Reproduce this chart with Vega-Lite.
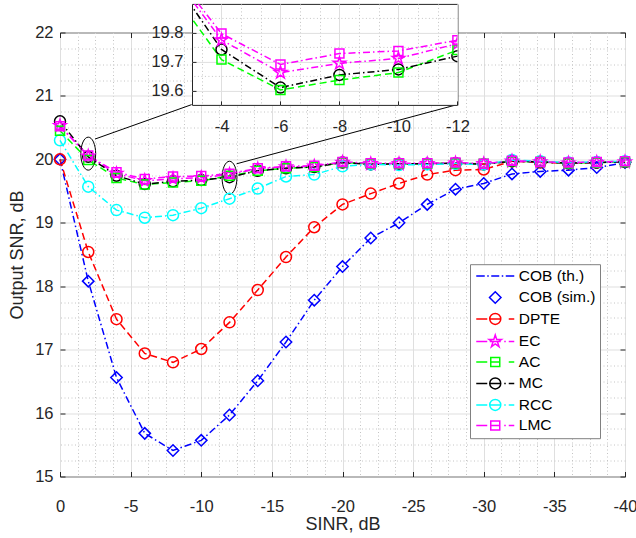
{
"$schema":"https://vega.github.io/schema/vega-lite/v6.json",
"background":"white",
"padding":{"left":8,"top":2.5,"right":0,"bottom":0},
"bounds":"flush",
"columns":1,
"align":"none",
"spacing":-472.6,
"resolve":{"scale":{"color":"independent","strokeDash":"independent"}},
"config":{
 "font":"Liberation Sans",
 "view":{"stroke":null},
 "axis":{"labelFont":"Liberation Sans","titleFont":"Liberation Sans","labelColor":"#262626","titleColor":"#262626","titleFontWeight":"normal","tickColor":"#262626","domain":false,"labelFlush":false,"labelOverlap":false}
},
"datasets":{
"curves":[
{"series":"COB (th.)","x":0,"y":20.0},{"series":"COB (th.)","x":-2,"y":18.08},{"series":"COB (th.)","x":-4,"y":16.56},{"series":"COB (th.)","x":-6,"y":15.68},{"series":"COB (th.)","x":-8,"y":15.41},{"series":"COB (th.)","x":-10,"y":15.57},{"series":"COB (th.)","x":-12,"y":15.97},{"series":"COB (th.)","x":-14,"y":16.51},{"series":"COB (th.)","x":-16,"y":17.12},{"series":"COB (th.)","x":-18,"y":17.78},{"series":"COB (th.)","x":-20,"y":18.31},{"series":"COB (th.)","x":-22,"y":18.76},{"series":"COB (th.)","x":-24,"y":19.0},{"series":"COB (th.)","x":-26,"y":19.29},{"series":"COB (th.)","x":-28,"y":19.53},{"series":"COB (th.)","x":-30,"y":19.62},{"series":"COB (th.)","x":-32,"y":19.77},{"series":"COB (th.)","x":-34,"y":19.81},{"series":"COB (th.)","x":-36,"y":19.83},{"series":"COB (th.)","x":-38,"y":19.87},{"series":"COB (th.)","x":-40,"y":19.95},
{"series":"COB (sim.)","x":0,"y":20.0},{"series":"COB (sim.)","x":-2,"y":18.08},{"series":"COB (sim.)","x":-4,"y":16.56},{"series":"COB (sim.)","x":-6,"y":15.68},{"series":"COB (sim.)","x":-8,"y":15.41},{"series":"COB (sim.)","x":-10,"y":15.57},{"series":"COB (sim.)","x":-12,"y":15.97},{"series":"COB (sim.)","x":-14,"y":16.51},{"series":"COB (sim.)","x":-16,"y":17.12},{"series":"COB (sim.)","x":-18,"y":17.78},{"series":"COB (sim.)","x":-20,"y":18.31},{"series":"COB (sim.)","x":-22,"y":18.76},{"series":"COB (sim.)","x":-24,"y":19.0},{"series":"COB (sim.)","x":-26,"y":19.29},{"series":"COB (sim.)","x":-28,"y":19.53},{"series":"COB (sim.)","x":-30,"y":19.62},{"series":"COB (sim.)","x":-32,"y":19.77},{"series":"COB (sim.)","x":-34,"y":19.81},{"series":"COB (sim.)","x":-36,"y":19.83},{"series":"COB (sim.)","x":-38,"y":19.87},{"series":"COB (sim.)","x":-40,"y":19.95},
{"series":"DPTE","x":0,"y":20.0},{"series":"DPTE","x":-2,"y":18.54},{"series":"DPTE","x":-4,"y":17.48},{"series":"DPTE","x":-6,"y":16.94},{"series":"DPTE","x":-8,"y":16.8},{"series":"DPTE","x":-10,"y":17.01},{"series":"DPTE","x":-12,"y":17.43},{"series":"DPTE","x":-14,"y":17.94},{"series":"DPTE","x":-16,"y":18.46},{"series":"DPTE","x":-18,"y":18.93},{"series":"DPTE","x":-20,"y":19.29},{"series":"DPTE","x":-22,"y":19.46},{"series":"DPTE","x":-24,"y":19.62},{"series":"DPTE","x":-26,"y":19.76},{"series":"DPTE","x":-28,"y":19.83},{"series":"DPTE","x":-30,"y":19.84},{"series":"DPTE","x":-32,"y":19.97},{"series":"DPTE","x":-34,"y":19.95},{"series":"DPTE","x":-36,"y":19.94},{"series":"DPTE","x":-38,"y":19.95},{"series":"DPTE","x":-40,"y":19.96},
{"series":"EC","x":0,"y":20.53},{"series":"EC","x":-2,"y":20.05},{"series":"EC","x":-4,"y":19.775},{"series":"EC","x":-6,"y":19.662},{"series":"EC","x":-8,"y":19.694},{"series":"EC","x":-10,"y":19.711},{"series":"EC","x":-12,"y":19.762},{"series":"EC","x":-14,"y":19.85},{"series":"EC","x":-16,"y":19.88},{"series":"EC","x":-18,"y":19.89},{"series":"EC","x":-20,"y":19.95},{"series":"EC","x":-22,"y":19.93},{"series":"EC","x":-24,"y":19.93},{"series":"EC","x":-26,"y":19.93},{"series":"EC","x":-28,"y":19.94},{"series":"EC","x":-30,"y":19.93},{"series":"EC","x":-32,"y":19.97},{"series":"EC","x":-34,"y":19.96},{"series":"EC","x":-36,"y":19.94},{"series":"EC","x":-38,"y":19.95},{"series":"EC","x":-40,"y":19.96},
{"series":"AC","x":0,"y":20.45},{"series":"AC","x":-2,"y":19.99},{"series":"AC","x":-4,"y":19.707},{"series":"AC","x":-6,"y":19.602},{"series":"AC","x":-8,"y":19.636},{"series":"AC","x":-10,"y":19.662},{"series":"AC","x":-12,"y":19.74},{"series":"AC","x":-14,"y":19.82},{"series":"AC","x":-16,"y":19.86},{"series":"AC","x":-18,"y":19.88},{"series":"AC","x":-20,"y":19.95},{"series":"AC","x":-22,"y":19.93},{"series":"AC","x":-24,"y":19.93},{"series":"AC","x":-26,"y":19.93},{"series":"AC","x":-28,"y":19.94},{"series":"AC","x":-30,"y":19.93},{"series":"AC","x":-32,"y":19.97},{"series":"AC","x":-34,"y":19.96},{"series":"AC","x":-36,"y":19.94},{"series":"AC","x":-38,"y":19.95},{"series":"AC","x":-40,"y":19.96},
{"series":"MC","x":0,"y":20.6},{"series":"MC","x":-2,"y":20.04},{"series":"MC","x":-4,"y":19.742},{"series":"MC","x":-6,"y":19.61},{"series":"MC","x":-8,"y":19.654},{"series":"MC","x":-10,"y":19.673},{"series":"MC","x":-12,"y":19.719},{"series":"MC","x":-14,"y":19.82},{"series":"MC","x":-16,"y":19.86},{"series":"MC","x":-18,"y":19.88},{"series":"MC","x":-20,"y":19.95},{"series":"MC","x":-22,"y":19.92},{"series":"MC","x":-24,"y":19.93},{"series":"MC","x":-26,"y":19.93},{"series":"MC","x":-28,"y":19.94},{"series":"MC","x":-30,"y":19.92},{"series":"MC","x":-32,"y":19.97},{"series":"MC","x":-34,"y":19.96},{"series":"MC","x":-36,"y":19.94},{"series":"MC","x":-38,"y":19.95},{"series":"MC","x":-40,"y":19.96},
{"series":"RCC","x":0,"y":20.3},{"series":"RCC","x":-2,"y":19.57},{"series":"RCC","x":-4,"y":19.2},{"series":"RCC","x":-6,"y":19.08},{"series":"RCC","x":-8,"y":19.12},{"series":"RCC","x":-10,"y":19.23},{"series":"RCC","x":-12,"y":19.38},{"series":"RCC","x":-14,"y":19.54},{"series":"RCC","x":-16,"y":19.73},{"series":"RCC","x":-18,"y":19.76},{"series":"RCC","x":-20,"y":19.89},{"series":"RCC","x":-22,"y":19.92},{"series":"RCC","x":-24,"y":19.91},{"series":"RCC","x":-26,"y":19.92},{"series":"RCC","x":-28,"y":19.93},{"series":"RCC","x":-30,"y":19.92},{"series":"RCC","x":-32,"y":19.99},{"series":"RCC","x":-34,"y":19.97},{"series":"RCC","x":-36,"y":19.95},{"series":"RCC","x":-38,"y":19.96},{"series":"RCC","x":-40,"y":19.97},
{"series":"LMC","x":0,"y":20.52},{"series":"LMC","x":-2,"y":20.06},{"series":"LMC","x":-4,"y":19.797},{"series":"LMC","x":-6,"y":19.69},{"series":"LMC","x":-8,"y":19.728},{"series":"LMC","x":-10,"y":19.737},{"series":"LMC","x":-12,"y":19.774},{"series":"LMC","x":-14,"y":19.86},{"series":"LMC","x":-16,"y":19.89},{"series":"LMC","x":-18,"y":19.9},{"series":"LMC","x":-20,"y":19.96},{"series":"LMC","x":-22,"y":19.94},{"series":"LMC","x":-24,"y":19.94},{"series":"LMC","x":-26,"y":19.94},{"series":"LMC","x":-28,"y":19.95},{"series":"LMC","x":-30,"y":19.93},{"series":"LMC","x":-32,"y":19.98},{"series":"LMC","x":-34,"y":19.96},{"series":"LMC","x":-36,"y":19.95},{"series":"LMC","x":-38,"y":19.96},{"series":"LMC","x":-40,"y":19.97}
],
"ellipses":[{"x":-2,"y":20.09},{"x":-12,"y":19.71}],
"connectors":[{"x":-2.48,"y":20.32,"x2":-9.32,"y2":20.863},{"x":-12.5,"y":19.93,"x2":-28.12,"y2":20.863}]
},
"concat":[
{
 "width":565,"height":444,
 "view":{"stroke":"#262626","strokeWidth":1,"fill":"white"},
 "resolve":{"scale":{"color":"independent","shape":"independent"},"axis":{"x":"independent","y":"independent"}},
 "layer":[
  {"data":{"name":"curves"},"transform":[{"filter":"datum.series != 'COB (sim.)'"}],
   "mark":{"type":"line","strokeWidth":1.5},
   "encoding":{
    "x":{"field":"x","type":"quantitative","scale":{"domain":[-40,0],"reverse":true,"nice":false,"zero":false},
     "axis":{"orient":"bottom","values":[-1.25,-2.5,-3.75,-6.25,-7.5,-8.75,-11.25,-12.5,-13.75,-16.25,-17.5,-18.75,-21.25,-22.5,-23.75,-26.25,-27.5,-28.75,-31.25,-32.5,-33.75,-36.25,-37.5,-38.75],"grid":true,"gridColor":"#c4c4c4","gridDash":[1,2.5],"labels":false,"ticks":false,"domain":false,"title":null}},
    "y":{"field":"y","type":"quantitative","scale":{"domain":[15,22],"nice":false,"zero":false},
     "axis":{"orient":"left","values":[15.25,15.5,15.75,16.25,16.5,16.75,17.25,17.5,17.75,18.25,18.5,18.75,19.25,19.5,19.75,20.25,20.5,20.75,21.25,21.5,21.75],"grid":true,"gridColor":"#c4c4c4","gridDash":[1,2.5],"labels":false,"ticks":false,"domain":false,"title":null}},
    "color":{"field":"series","type":"nominal","scale":{"domain":["COB (th.)","COB (sim.)","DPTE","EC","AC","MC","RCC","LMC"],"range":["#0000ff","#0000ff","#ff0000","#ff00ff","#00ff00","#000000","#00ffff","#ff00ff"]},"legend":null},
    "strokeDash":{"field":"series","type":"nominal","scale":{"domain":["COB (th.)","COB (sim.)","DPTE","EC","AC","MC","RCC","LMC"],"range":[[7,3,1.5,3],[1,0],[7,4],[7,3,1.5,3],[7,4],[7,3,1.5,3],[7,3,1.5,3],[7,3,1.5,3]]},"legend":null}
   }},
  {"data":{"name":"connectors"},
   "mark":{"type":"rule","color":"black","strokeWidth":1},
   "encoding":{
    "x":{"field":"x","type":"quantitative","axis":{"orient":"bottom","values":[0,-5,-10,-15,-20,-25,-30,-35,-40],"grid":true,"gridColor":"#dfdfdf","labels":true,"labelFontSize":16.5,"labelPadding":27,"labelExpr":"replace(datum.label,'−','-')","ticks":true,"tickSize":-5,"tickWidth":1,"domain":false,"title":"SINR, dB","titleFontSize":18,"titlePadding":0.5}},
    "y":{"field":"y","type":"quantitative","axis":{"orient":"left","values":[15,16,17,18,19,20,21,22],"grid":true,"gridColor":"#dfdfdf","labels":true,"labelFontSize":16.5,"labelPadding":12,"ticks":true,"tickSize":-5,"tickWidth":1,"domain":false,"title":"Output SNR, dB","titleFontSize":18,"titlePadding":8}},
    "x2":{"field":"x2"},"y2":{"field":"y2"}
   }},
  {"data":{"name":"ellipses"},
   "mark":{"type":"point","shape":"M-0.45,0A0.45,1 0 1,1 0.45,0A0.45,1 0 1,1 -0.45,0Z","size":1089,"color":"black","strokeWidth":1,"filled":false,"opacity":1},
   "encoding":{"x":{"field":"x","type":"quantitative","axis":null},"y":{"field":"y","type":"quantitative","axis":null}}},
  {"data":{"name":"curves"},"transform":[{"filter":{"field":"series","oneOf":["COB (sim.)"]}}],
   "mark":{"type":"point","shape":"diamond","size":130,"filled":false,"strokeWidth":1.5,"opacity":1},
   "encoding":{"x":{"field":"x","type":"quantitative","axis":{"orient":"top","values":[0,-5,-10,-15,-20,-25,-30,-35,-40],"grid":false,"labels":false,"ticks":true,"tickSize":-5,"tickWidth":1,"domain":false,"title":null}},
    "y":{"field":"y","type":"quantitative","axis":{"orient":"right","values":[15,16,17,18,19,20,21,22],"grid":false,"labels":false,"ticks":true,"tickSize":-5,"tickWidth":1,"domain":false,"title":null}},
    "color":{"field":"series","type":"nominal","scale":{"domain":["COB (th.)","COB (sim.)","DPTE","EC","AC","MC","RCC","LMC"],"range":["#0000ff","#0000ff","#ff0000","#ff00ff","#00ff00","#000000","#00ffff","#ff00ff"]},"legend":null}}},
  {"data":{"name":"curves"},"transform":[{"filter":{"field":"series","oneOf":["DPTE","MC","RCC"]}}],
   "mark":{"type":"point","shape":"circle","size":121,"filled":false,"strokeWidth":1.5,"opacity":1},
   "encoding":{"x":{"field":"x","type":"quantitative","axis":null},"y":{"field":"y","type":"quantitative","axis":null},
    "color":{"field":"series","type":"nominal","scale":{"domain":["COB (th.)","COB (sim.)","DPTE","EC","AC","MC","RCC","LMC"],"range":["#0000ff","#0000ff","#ff0000","#ff00ff","#00ff00","#000000","#00ffff","#ff00ff"]},"legend":null}}},
  {"data":{"name":"curves"},"transform":[{"filter":{"field":"series","oneOf":["EC"]}}],
   "mark":{"type":"point","shape":"M0,-1L0.225,-0.309L0.951,-0.309L0.363,0.118L0.588,0.809L0,0.382L-0.588,0.809L-0.363,0.118L-0.951,-0.309L-0.225,-0.309Z","size":169,"filled":false,"strokeWidth":1.5,"opacity":1},
   "encoding":{"x":{"field":"x","type":"quantitative","axis":null},"y":{"field":"y","type":"quantitative","axis":null},
    "color":{"field":"series","type":"nominal","scale":{"domain":["COB (th.)","COB (sim.)","DPTE","EC","AC","MC","RCC","LMC"],"range":["#0000ff","#0000ff","#ff0000","#ff00ff","#00ff00","#000000","#00ffff","#ff00ff"]},"legend":null}}},
  {"data":{"name":"curves"},"transform":[{"filter":{"field":"series","oneOf":["AC","LMC"]}}],
   "mark":{"type":"point","shape":"square","size":81,"filled":false,"strokeWidth":1.5,"opacity":1},
   "encoding":{"x":{"field":"x","type":"quantitative","axis":null},"y":{"field":"y","type":"quantitative","axis":null},
    "color":{"field":"series","type":"nominal","scale":{"domain":["COB (th.)","COB (sim.)","DPTE","EC","AC","MC","RCC","LMC"],"range":["#0000ff","#0000ff","#ff0000","#ff00ff","#00ff00","#000000","#00ffff","#ff00ff"]},"legend":null}}},
  {"data":{"values":[]},
   "mark":{"type":"point","filled":false,"strokeWidth":1.5,"opacity":1},
   "encoding":{
    "color":{"field":"series","type":"nominal","scale":{"domain":["COB (th.)","COB (sim.)","DPTE","EC","AC","MC","RCC","LMC"],"range":["#0000ff","#0000ff","#ff0000","#ff00ff","#00ff00","#000000","#00ffff","#ff00ff"]},
     "legend":{"orient":"none","legendX":410,"legendY":231.7,"title":null,"padding":4,"symbolSize":100,"symbolStrokeWidth":1.5,"symbolOffset":13.5,"labelOffset":15.8,"labelFontSize":15.5,"labelColor":"#000000","labelFont":"Liberation Sans","rowPadding":3.5,"fillColor":"white","strokeColor":"#808080","symbolFillColor":"transparent","labelLimit":300}},
    "shape":{"field":"series","type":"nominal","scale":{"domain":["COB (th.)","COB (sim.)","DPTE","EC","AC","MC","RCC","LMC"],"range":[
      "M-3.8,0H-2.1M-1.6,0H-1.3M-0.8,0H0.8M1.3,0H1.6M2.1,0H3.8",
      "M0,-1.15L1.15,0L0,1.15L-1.15,0Z",
      "M-3.8,0H-1.6M-1.1,0H1.1M2.7,0H3.8M-1.1,0A1.1,1.1 0 1,1 1.1,0A1.1,1.1 0 1,1 -1.1,0Z",
      "M-3.8,0H-1.6M-1.1,0H1.1M1.8,0H2.1M2.7,0H3.8M0,-1.3L0.292,-0.402L1.236,-0.402L0.472,0.153L0.764,1.052L0,0.497L-0.764,1.052L-0.472,0.153L-1.236,-0.402L-0.292,-0.402Z",
      "M-3.8,0H-1.6M-0.9,0H0.9M2.7,0H3.8M-0.9,-0.9H0.9V0.9H-0.9Z",
      "M-3.8,0H-1.6M-1.1,0H1.1M1.8,0H2.1M2.7,0H3.8M-1.1,0A1.1,1.1 0 1,1 1.1,0A1.1,1.1 0 1,1 -1.1,0Z",
      "M-3.8,0H-1.6M-1.1,0H1.1M1.8,0H2.1M2.7,0H3.8M-1.1,0A1.1,1.1 0 1,1 1.1,0A1.1,1.1 0 1,1 -1.1,0Z",
      "M-3.8,0H-1.6M-0.9,0H0.9M1.8,0H2.1M2.7,0H3.8M-0.9,-0.9H0.9V0.9H-0.9Z"]},
     "legend":{"orient":"none","legendX":410,"legendY":231.7,"title":null,"padding":4,"symbolSize":100,"symbolStrokeWidth":1.5,"symbolOffset":13.5,"labelOffset":15.8,"labelFontSize":15.5,"labelColor":"#000000","labelFont":"Liberation Sans","rowPadding":3.5,"fillColor":"white","strokeColor":"#808080","symbolFillColor":"transparent","labelLimit":300}}
   }}
 ]
},
{
 "hconcat":[
  {"width":132,"height":101,"data":{"values":[]},"mark":"point","view":{"stroke":null}},
  {
   "width":265.4,"height":101,
   "view":{"fill":"white","stroke":"#262626","strokeWidth":1},
   "resolve":{"axis":{"x":"independent","y":"independent"}},
   "layer":[
    {"data":{"name":"curves"},"transform":[{"filter":{"field":"series","oneOf":["EC","AC","MC","LMC"]}},{"filter":"datum.x >= -16"}],
     "mark":{"type":"line","strokeWidth":1.5,"clip":true},
     "encoding":{
      "x":{"field":"x","type":"quantitative","scale":{"domain":[-12,-3],"reverse":true,"nice":false,"zero":false},
       "axis":{"orient":"bottom","values":[-3.333,-4.667,-5.333,-6.667,-7.333,-8.667,-9.333,-10.667,-11.333],"grid":true,"gridColor":"#c4c4c4","gridDash":[1,2.5],"labels":false,"ticks":false,"domain":false,"title":null}},
      "y":{"field":"y","type":"quantitative","scale":{"domain":[19.55,19.9],"nice":false,"zero":false},
       "axis":{"orient":"left","values":[19.65,19.75,19.85],"grid":true,"gridColor":"#c4c4c4","gridDash":[1,2.5],"labels":false,"ticks":false,"domain":false,"title":null}},
      "color":{"field":"series","type":"nominal","scale":{"domain":["COB (th.)","COB (sim.)","DPTE","EC","AC","MC","RCC","LMC"],"range":["#0000ff","#0000ff","#ff0000","#ff00ff","#00ff00","#000000","#00ffff","#ff00ff"]},"legend":null},
      "strokeDash":{"field":"series","type":"nominal","scale":{"domain":["COB (th.)","COB (sim.)","DPTE","EC","AC","MC","RCC","LMC"],"range":[[7,3,1.5,3],[1,0],[7,4],[7,3,1.5,3],[7,4],[7,3,1.5,3],[7,3,1.5,3],[7,3,1.5,3]]},"legend":null}
     }},
    {"data":{"name":"curves"},"transform":[{"filter":{"field":"series","oneOf":["MC"]}}],
     "mark":{"type":"point","shape":"circle","size":121,"filled":false,"strokeWidth":1.5,"opacity":1,"clip":true},
     "encoding":{
      "x":{"field":"x","type":"quantitative","axis":{"orient":"bottom","values":[-4,-6,-8,-10,-12],"grid":true,"gridColor":"#dfdfdf","labels":true,"labelFontSize":16.5,"labelPadding":18,"labelExpr":"replace(datum.label,'−','-')","ticks":true,"tickSize":-4,"tickWidth":1,"domain":false,"title":null}},
      "y":{"field":"y","type":"quantitative","axis":{"orient":"left","values":[19.6,19.7,19.8],"grid":true,"gridColor":"#dfdfdf","labels":true,"labelFontSize":16.5,"labelPadding":13,"ticks":true,"tickSize":-4,"tickWidth":1,"domain":false,"title":null}},
      "color":{"field":"series","type":"nominal","scale":{"domain":["COB (th.)","COB (sim.)","DPTE","EC","AC","MC","RCC","LMC"],"range":["#0000ff","#0000ff","#ff0000","#ff00ff","#00ff00","#000000","#00ffff","#ff00ff"]},"legend":null}}},
    {"data":{"name":"curves"},"transform":[{"filter":{"field":"series","oneOf":["EC"]}}],
     "mark":{"type":"point","shape":"M0,-1L0.225,-0.309L0.951,-0.309L0.363,0.118L0.588,0.809L0,0.382L-0.588,0.809L-0.363,0.118L-0.951,-0.309L-0.225,-0.309Z","size":169,"filled":false,"strokeWidth":1.5,"opacity":1,"clip":true},
     "encoding":{"x":{"field":"x","type":"quantitative","axis":null},"y":{"field":"y","type":"quantitative","axis":null},
      "color":{"field":"series","type":"nominal","scale":{"domain":["COB (th.)","COB (sim.)","DPTE","EC","AC","MC","RCC","LMC"],"range":["#0000ff","#0000ff","#ff0000","#ff00ff","#00ff00","#000000","#00ffff","#ff00ff"]},"legend":null}}},
    {"data":{"name":"curves"},"transform":[{"filter":{"field":"series","oneOf":["AC","LMC"]}}],
     "mark":{"type":"point","shape":"square","size":81,"filled":false,"strokeWidth":1.5,"opacity":1,"clip":true},
     "encoding":{"x":{"field":"x","type":"quantitative","axis":null},"y":{"field":"y","type":"quantitative","axis":null},
      "color":{"field":"series","type":"nominal","scale":{"domain":["COB (th.)","COB (sim.)","DPTE","EC","AC","MC","RCC","LMC"],"range":["#0000ff","#0000ff","#ff0000","#ff00ff","#00ff00","#000000","#00ffff","#ff00ff"]},"legend":null}}}
   ]
  }
 ],
 "spacing":0,
 "bounds":"flush"
}
]
}
